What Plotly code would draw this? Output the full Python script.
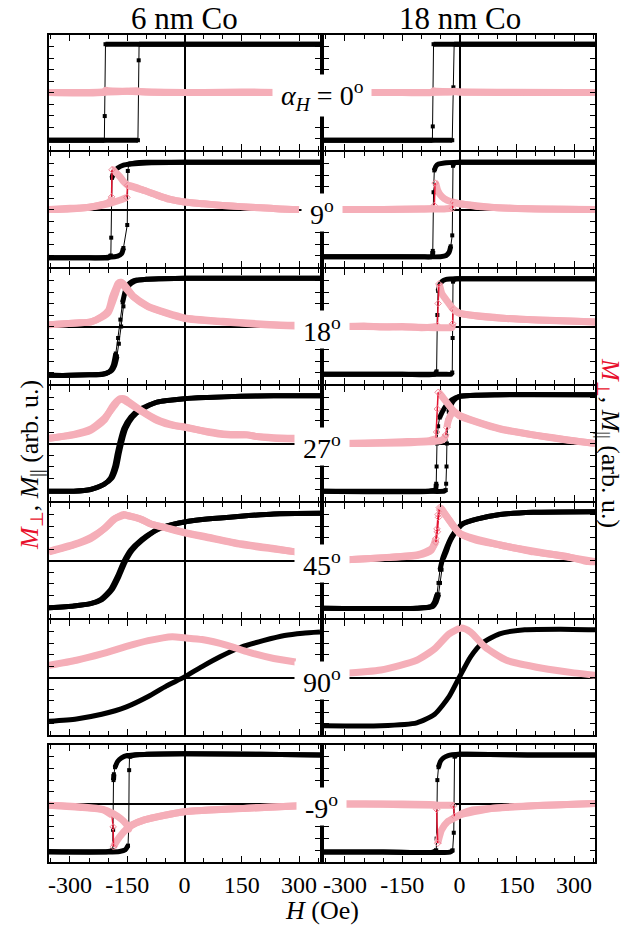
import plotly.graph_objects as go

# ---------------- data ----------------
# naming: H_<angle>_<sample>_<par|perp>_<dn|up>  (dn = field sweep from + to -, up = from - to +)
# ---- alpha_H = 0 deg
H_00_6_par_dn = [355, 200, 0, -150, -207, -209, -210, -215, -300, -355]
M_00_6_par_dn = [0.84, 0.84, 0.84, 0.84, 0.84, -0.41, -0.83, -0.83, -0.83, -0.83]
H_00_6_par_up = [-355, -300, -200, -150, -122, -120, -119, -110, 0, 200, 355]
M_00_6_par_up = [-0.83, -0.83, -0.83, -0.83, -0.83, 0.56, 0.84, 0.84, 0.84, 0.84, 0.84]
H_00_6_perp_dn = [355, 250, 150, 50, 0, -100, -150, -200, -207, -209, -215, -260, -355]
M_00_6_perp_dn = [0.0, 0.0, 0.01, 0.0, 0.0, 0.01, 0.02, 0.03, 0.04, 0.0, 0.0, -0.01, 0.0]
H_00_6_perp_up = [-355, -250, -200, -150, -122, -120, -100, 0, 355]
M_00_6_perp_up = [0.0, 0.0, 0.01, 0.02, 0.03, 0.02, 0.01, 0.0, 0.0]

H_00_18_par_dn = [355, 200, 0, -50, -68, -70, -71, -80, -200, -355]
M_00_18_par_dn = [0.84, 0.84, 0.84, 0.84, 0.84, -0.59, -0.83, -0.83, -0.83, -0.83]
H_00_18_par_up = [-355, -200, -50, -19, -16, -14, 0, 200, 355]
M_00_18_par_up = [-0.83, -0.83, -0.83, -0.83, 0.09, 0.84, 0.84, 0.84, 0.84]
H_00_18_perp_dn = [355, 200, 100, 0, -60, -68, -72, -150, -355]
M_00_18_perp_dn = [0.0, 0.0, 0.0, 0.01, 0.02, 0.03, 0.0, 0.0, 0.0]
H_00_18_perp_up = [-355, -100, -20, -16, 0, 355]
M_00_18_perp_up = [0.0, 0.0, 0.01, 0.02, 0.01, 0.0]

# ---- 9 deg
H_09_6_par_dn = [355, 200, 0, -100, -140, -160, -175, -185, -190, -192, -193, -200, -250, -355]
M_09_6_par_dn = [0.82, 0.82, 0.82, 0.81, 0.79, 0.77, 0.72, 0.65, 0.55, -0.49, -0.80, -0.84, -0.84, -0.84]
H_09_6_par_up = [-355, -250, -200, -175, -165, -160, -150, -148.5, -146, -130, -100, 0, 200, 355]
M_09_6_par_up = [-0.84, -0.84, -0.83, -0.81, -0.77, -0.67, -0.27, 0.67, 0.79, 0.81, 0.82, 0.82, 0.82, 0.82]
H_09_6_perp_dn = [300, 250, 200, 147, 100, 50, 0, -40, -72, -105, -130, -148, -160, -168, -175, -181, -187, -190, -191, -193, -200, -220, -250, -300, -355]
M_09_6_perp_dn = [0.0, 0.01, 0.03, 0.05, 0.07, 0.10, 0.13, 0.18, 0.25, 0.33, 0.38, 0.42, 0.49, 0.56, 0.61, 0.65, 0.69, 0.69, 0.22, 0.15, 0.12, 0.08, 0.04, 0.02, 0.0]
H_09_6_perp_up = [-355, -300, -250, -200, -170, -155, -151, -149, -140, -130, -105, -72, -40, 0, 50, 100, 147, 200, 250, 300]
M_09_6_perp_up = [0.0, 0.01, 0.04, 0.10, 0.16, 0.20, 0.21, 0.42, 0.41, 0.39, 0.33, 0.25, 0.18, 0.13, 0.10, 0.07, 0.05, 0.03, 0.01, 0.0]

H_09_18_par_dn = [355, 200, 0, -40, -55, -62, -66, -68, -70, -72, -100, -200, -355]
M_09_18_par_dn = [0.82, 0.82, 0.82, 0.81, 0.79, 0.75, 0.68, 0.30, -0.72, -0.82, -0.82, -0.82, -0.82]
H_09_18_par_up = [-355, -200, -50, -35, -27, -23, -19, -17, -14, 0, 200, 355]
M_09_18_par_up = [-0.82, -0.82, -0.82, -0.80, -0.74, -0.64, -0.45, 0.76, 0.81, 0.82, 0.82, 0.82]
H_09_18_perp_dn = [355, 200, 100, 50, 20, 0, -20, -40, -52, -58, -62, -64, -66, -70, -100, -200, -318]
M_09_18_perp_dn = [0.0, 0.01, 0.03, 0.05, 0.08, 0.10, 0.13, 0.19, 0.27, 0.35, 0.45, 0.46, 0.07, 0.02, 0.01, 0.0, 0.0]
H_09_18_perp_up = [-318, -200, -100, -40, -20, -18, -16, -10, 0, 100, 355]
M_09_18_perp_up = [0.0, 0.0, 0.01, 0.01, 0.02, 0.02, 0.13, 0.115, 0.10, 0.03, 0.0]

# ---- 18 deg
H_18_6_par_dn = [355, 200, 0, -60, -100, -130, -145, -153, -160, -166, -172, -177, -183, -190, -200, -215, -250, -300, -355]
M_18_6_par_dn = [0.84, 0.84, 0.84, 0.83, 0.82, 0.79, 0.72, 0.60, 0.35, 0.0, -0.30, -0.52, -0.68, -0.76, -0.80, -0.83, -0.84, -0.85, -0.85]
H_18_6_par_up = [-355, -300, -250, -215, -200, -192, -186, -180, -174, -168, -162, -155, -148, -138, -125, -100, -60, 0, 200, 355]
M_18_6_par_up = [-0.85, -0.85, -0.84, -0.83, -0.80, -0.75, -0.66, -0.47, -0.20, 0.12, 0.42, 0.62, 0.72, 0.78, 0.81, 0.82, 0.83, 0.84, 0.84, 0.84]
H_18_6_perp_dn = [290, 187, 100, 0, -48, -95, -133, -152, -163, -168, -174, -180, -189, -199, -217, -245, -283, -355]
M_18_6_perp_dn = [0.01, 0.04, 0.08, 0.14, 0.23, 0.34, 0.51, 0.65, 0.74, 0.77, 0.75, 0.66, 0.51, 0.28, 0.17, 0.08, 0.06, 0.03]
H_18_6_perp_up = [-355, -283, -245, -217, -199, -190, -182, -175, -169, -165, -160, -150, -133, -95, -48, 0, 100, 187, 290]
M_18_6_perp_up = [0.03, 0.06, 0.08, 0.16, 0.25, 0.40, 0.55, 0.68, 0.75, 0.77, 0.74, 0.66, 0.52, 0.35, 0.24, 0.15, 0.09, 0.05, 0.02]

H_18_18_par_dn = [355, 200, 0, -35, -45, -52, -56, -58, -60, -65, -150, -355]
M_18_18_par_dn = [0.83, 0.83, 0.83, 0.82, 0.79, 0.72, 0.62, 0.20, -0.78, -0.83, -0.83, -0.83]
H_18_18_par_up = [-355, -200, -40, -22, -19, -18, -17, -15, -5, 100, 355]
M_18_18_par_up = [-0.83, -0.83, -0.83, -0.83, -0.80, -0.20, 0.78, 0.82, 0.83, 0.83, 0.83]
H_18_18_perp_dn = [355, 300, 217, 123, 50, 0, -17, -31, -46, -52, -54, -56, -58, -61, -70, -100, -150, -200, -250, -305]
M_18_18_perp_dn = [0.08, 0.09, 0.11, 0.14, 0.18, 0.23, 0.31, 0.43, 0.57, 0.71, 0.74, 0.40, 0.02, 0.0, -0.01, -0.02, 0.0, -0.01, 0.01, 0.0]
H_18_18_perp_up = [-305, -250, -150, -60, -30, -20, -18, -17, -10, 0, 123, 355]
M_18_18_perp_up = [0.0, 0.0, -0.01, -0.02, -0.02, -0.02, 0.05, 0.29, 0.27, 0.23, 0.14, 0.08]

# ---- 27 deg
H_27_6_par_dn = [355, 234, 147, 59, 0, -72, -115, -141, -159, -168, -176, -183, -194, -211, -246, -290, -355]
M_27_6_par_dn = [0.83, 0.83, 0.82, 0.80, 0.78, 0.72, 0.60, 0.46, 0.26, 0.06, -0.17, -0.40, -0.60, -0.71, -0.80, -0.83, -0.83]
H_27_6_par_up = [-355, -290, -246, -211, -190, -178, -171, -163, -154, -136, -110, -72, 0, 59, 147, 234, 355]
M_27_6_par_up = [-0.83, -0.83, -0.80, -0.71, -0.60, -0.40, -0.17, 0.06, 0.26, 0.46, 0.60, 0.72, 0.78, 0.80, 0.82, 0.83, 0.83]
H_27_6_perp_dn = [291, 234, 190, 164, 112, 59, 0, -28, -72, -115, -150, -160, -168, -178, -190, -211, -246, -290, -355]
M_27_6_perp_dn = [0.08, 0.09, 0.12, 0.15, 0.15, 0.20, 0.29, 0.31, 0.40, 0.57, 0.72, 0.76, 0.78, 0.73, 0.63, 0.40, 0.23, 0.15, 0.09]
H_27_6_perp_up = [-355, -290, -246, -211, -186, -174, -164, -155, -145, -115, -72, -28, 0, 59, 112, 164, 190, 234, 291]
M_27_6_perp_up = [0.09, 0.16, 0.25, 0.43, 0.64, 0.74, 0.78, 0.77, 0.72, 0.58, 0.42, 0.32, 0.28, 0.21, 0.16, 0.15, 0.12, 0.10, 0.09]

H_27_18_par_dn = [355, 100, 0, -20, -35, -45, -52, -56, -59, -60, -61, -63, -80, -355]
M_27_18_par_dn = [0.85, 0.85, 0.82, 0.76, 0.66, 0.55, 0.45, 0.30, 0.0, -0.40, -0.70, -0.80, -0.83, -0.83]
H_27_18_par_up = [-355, -100, -40, -36, -35, -34, -33, -31, -28, -20, -10, 0, 50, 355]
M_27_18_par_up = [-0.83, -0.83, -0.83, -0.81, -0.70, -0.40, 0.0, 0.40, 0.55, 0.70, 0.78, 0.82, 0.84, 0.85]
H_27_18_perp_dn = [355, 281, 193, 106, 36, 0, -16, -34, -47, -53, -56, -58, -60, -62, -80, -150, -250, -307]
M_27_18_perp_dn = [0.0, 0.06, 0.15, 0.26, 0.40, 0.49, 0.57, 0.72, 0.83, 0.88, 0.89, 0.60, 0.20, 0.08, 0.05, 0.03, 0.01, 0.0]
H_27_18_perp_up = [-307, -250, -150, -80, -50, -40, -36, -33, -30, -25, -16, 0, 106, 355]
M_27_18_perp_up = [0.0, 0.0, 0.01, 0.03, 0.05, 0.09, 0.15, 0.28, 0.38, 0.47, 0.56, 0.48, 0.25, 0.0]

# ---- 45 deg
H_45_6_par_dn = [355, 234, 147, 59, 0, -28, -72, -115, -141, -159, -176, -194, -220, -246, -290, -355]
M_45_6_par_dn = [0.82, 0.81, 0.77, 0.72, 0.67, 0.63, 0.54, 0.35, 0.18, -0.02, -0.28, -0.51, -0.68, -0.75, -0.79, -0.82]
H_45_6_par_up = [-355, -290, -246, -216, -190, -172, -155, -137, -111, -70, -28, 0, 59, 147, 234, 355]
M_45_6_par_up = [-0.82, -0.79, -0.75, -0.68, -0.51, -0.28, -0.02, 0.18, 0.35, 0.54, 0.63, 0.67, 0.72, 0.77, 0.81, 0.82]
H_45_6_perp_dn = [291, 234, 147, 59, 0, -55, -90, -115, -150, -159, -185, -211, -246, -290, -355]
M_45_6_perp_dn = [0.15, 0.21, 0.29, 0.41, 0.49, 0.58, 0.64, 0.72, 0.78, 0.80, 0.72, 0.55, 0.38, 0.27, 0.15]
H_45_6_perp_up = [-355, -290, -246, -207, -181, -155, -146, -111, -86, -51, 0, 59, 147, 234, 291]
M_45_6_perp_up = [0.16, 0.28, 0.40, 0.57, 0.73, 0.79, 0.78, 0.71, 0.63, 0.57, 0.48, 0.40, 0.28, 0.20, 0.15]

H_45_18_par_dn = [355, 193, 106, 45, 10, -7, -20, -29, -38, -44, -51, -55, -59, -66, -74, -112, -355]
M_45_18_par_dn = [0.85, 0.84, 0.80, 0.72, 0.64, 0.54, 0.42, 0.30, 0.15, 0.04, -0.16, -0.39, -0.59, -0.73, -0.80, -0.83, -0.83]
H_45_18_par_up = [-355, -112, -70, -62, -55, -51, -47, -42, -35, -27, -18, -5, 8, 45, 106, 193, 355]
M_45_18_par_up = [-0.83, -0.83, -0.80, -0.73, -0.59, -0.39, -0.16, 0.04, 0.15, 0.30, 0.42, 0.54, 0.64, 0.72, 0.80, 0.84, 0.85]
H_45_18_perp_dn = [355, 337, 281, 193, 106, 45, 1, -24, -40, -50, -53, -56, -59, -62, -74, -109, -196, -270, -355]
M_45_18_perp_dn = [-0.02, -0.02, 0.07, 0.15, 0.27, 0.35, 0.47, 0.67, 0.82, 0.90, 0.92, 0.80, 0.55, 0.38, 0.18, 0.09, 0.05, 0.02, 0.0]
H_45_18_perp_up = [-355, -270, -196, -109, -74, -62, -58, -55, -52, -48, -40, -24, 1, 106, 355]
M_45_18_perp_up = [0.0, 0.02, 0.05, 0.10, 0.20, 0.32, 0.50, 0.75, 0.88, 0.91, 0.83, 0.68, 0.47, 0.27, -0.02]

# ---- 90 deg (no hysteresis: one sweep)
H_90_6_par = [-355, -283, -217, -152, -95, -48, 0, 46, 93, 149, 206, 262, 310, 355]
M_90_6_par = [-0.76, -0.72, -0.64, -0.51, -0.33, -0.15, 0.01, 0.19, 0.36, 0.53, 0.64, 0.73, 0.77, 0.79]
H_90_6_perp = [-355, -283, -217, -152, -95, -32, 0, 46, 112, 168, 234, 291]
M_90_6_perp = [0.21, 0.30, 0.41, 0.54, 0.64, 0.71, 0.69, 0.66, 0.56, 0.44, 0.33, 0.27]
H_90_18_par = [-355, -206, -112, -65, -27, 0, 29, 58, 105, 171, 265, 355]
M_90_18_par = [-0.84, -0.84, -0.79, -0.64, -0.33, 0.01, 0.36, 0.59, 0.76, 0.83, 0.84, 0.83]
H_90_18_perp = [-309, -206, -112, -65, -27, 5, 29, 67, 123, 217, 300, 355]
M_90_18_perp = [0.07, 0.13, 0.30, 0.50, 0.76, 0.86, 0.79, 0.53, 0.30, 0.16, 0.08, 0.04]

# ---- -9 deg
H_m9_6_par_dn = [355, 200, 0, -100, -150, -165, -175, -182, -185, -186, -187, -188, -200, -355]
M_m9_6_par_dn = [0.83, 0.84, 0.85, 0.84, 0.82, 0.78, 0.72, 0.62, 0.50, 0.40, -0.45, -0.80, -0.82, -0.82]
H_m9_6_par_up = [-355, -200, -170, -155, -148, -146, -145, -144, -130, 0, 200, 355]
M_m9_6_par_up = [-0.83, -0.83, -0.82, -0.79, -0.72, -0.40, 0.57, 0.80, 0.83, 0.85, 0.84, 0.83]
H_m9_6_perp_dn = [304, 164, 0, -52, -105, -138, -154, -170, -181, -186, -187, -190, -213, -267, -355]
M_m9_6_perp_dn = [-0.04, -0.08, -0.14, -0.20, -0.28, -0.37, -0.45, -0.57, -0.68, -0.74, -0.40, -0.20, -0.11, -0.07, -0.03]
H_m9_6_perp_up = [-355, -267, -213, -190, -175, -160, -150, -146, -144, -138, -105, 0, 164, 304]
M_m9_6_perp_up = [-0.03, -0.06, -0.10, -0.16, -0.22, -0.30, -0.38, -0.44, -0.40, -0.37, -0.28, -0.14, -0.08, -0.04]

H_m9_18_par_dn = [355, 200, 0, -30, -42, -50, -55, -58, -60, -61, -70, -200, -355]
M_m9_18_par_dn = [0.83, 0.83, 0.84, 0.82, 0.78, 0.72, 0.62, 0.40, -0.60, -0.80, -0.83, -0.83, -0.83]
H_m9_18_par_up = [-355, -200, -25, -18, -15, -13, -8, 0, 200, 355]
M_m9_18_par_up = [-0.83, -0.83, -0.83, -0.80, -0.50, 0.80, 0.83, 0.84, 0.83, 0.83]
H_m9_18_perp_dn = [355, 195, 88, 34, 7, -9, -31, -47, -54, -57, -60, -62, -70, -150, -250, -310]
M_m9_18_perp_dn = [0.0, -0.04, -0.08, -0.11, -0.17, -0.23, -0.31, -0.45, -0.60, -0.68, -0.10, -0.03, -0.02, -0.01, -0.01, -0.01]
H_m9_18_perp_up = [-310, -250, -150, -50, -20, -16, -13, -9, 0, 88, 355]
M_m9_18_perp_up = [-0.01, -0.01, -0.02, -0.03, -0.03, -0.04, -0.22, -0.23, -0.20, -0.08, 0.0]

# labels
COL_TITLES = ["6 nm Co", "18 nm Co"]
ANGLE_LABELS = ["<i>α</i><sub><i>H</i></sub> = 0<sup>o</sup>", "9<sup>o</sup>", "18<sup>o</sup>",
                "27<sup>o</sup>", "45<sup>o</sup>", "90<sup>o</sup>", "-9<sup>o</sup>"]
X_TICKVALS = [-300, -150, 0, 150, 300]
X_TICKTEXT = ["-300", "-150", "0", "150", "300"]
X_MINOR = [-350, -250, -200, -100, -50, 50, 100, 200, 250, 350]
Y_TICKVALS = [-0.8, -0.6, -0.4, -0.2, 0.0, 0.2, 0.4, 0.6, 0.8]

# panels: rows (angles) x columns (samples); each entry: list of (H, M, kind)
PANELS = [
    [[(H_00_6_par_dn, M_00_6_par_dn, "par"), (H_00_6_par_up, M_00_6_par_up, "par"),
      (H_00_6_perp_dn, M_00_6_perp_dn, "perp"), (H_00_6_perp_up, M_00_6_perp_up, "perp")],
     [(H_00_18_par_dn, M_00_18_par_dn, "par"), (H_00_18_par_up, M_00_18_par_up, "par"),
      (H_00_18_perp_dn, M_00_18_perp_dn, "perp"), (H_00_18_perp_up, M_00_18_perp_up, "perp")]],
    [[(H_09_6_par_dn, M_09_6_par_dn, "par"), (H_09_6_par_up, M_09_6_par_up, "par"),
      (H_09_6_perp_dn, M_09_6_perp_dn, "perp"), (H_09_6_perp_up, M_09_6_perp_up, "perp")],
     [(H_09_18_par_dn, M_09_18_par_dn, "par"), (H_09_18_par_up, M_09_18_par_up, "par"),
      (H_09_18_perp_dn, M_09_18_perp_dn, "perp"), (H_09_18_perp_up, M_09_18_perp_up, "perp")]],
    [[(H_18_6_par_dn, M_18_6_par_dn, "par"), (H_18_6_par_up, M_18_6_par_up, "par"),
      (H_18_6_perp_dn, M_18_6_perp_dn, "perp"), (H_18_6_perp_up, M_18_6_perp_up, "perp")],
     [(H_18_18_par_dn, M_18_18_par_dn, "par"), (H_18_18_par_up, M_18_18_par_up, "par"),
      (H_18_18_perp_dn, M_18_18_perp_dn, "perp"), (H_18_18_perp_up, M_18_18_perp_up, "perp")]],
    [[(H_27_6_par_dn, M_27_6_par_dn, "par"), (H_27_6_par_up, M_27_6_par_up, "par"),
      (H_27_6_perp_dn, M_27_6_perp_dn, "perp"), (H_27_6_perp_up, M_27_6_perp_up, "perp")],
     [(H_27_18_par_dn, M_27_18_par_dn, "par"), (H_27_18_par_up, M_27_18_par_up, "par"),
      (H_27_18_perp_dn, M_27_18_perp_dn, "perp"), (H_27_18_perp_up, M_27_18_perp_up, "perp")]],
    [[(H_45_6_par_dn, M_45_6_par_dn, "par"), (H_45_6_par_up, M_45_6_par_up, "par"),
      (H_45_6_perp_dn, M_45_6_perp_dn, "perp"), (H_45_6_perp_up, M_45_6_perp_up, "perp")],
     [(H_45_18_par_dn, M_45_18_par_dn, "par"), (H_45_18_par_up, M_45_18_par_up, "par"),
      (H_45_18_perp_dn, M_45_18_perp_dn, "perp"), (H_45_18_perp_up, M_45_18_perp_up, "perp")]],
    [[(H_90_6_par, M_90_6_par, "par"), (H_90_6_perp, M_90_6_perp, "perp")],
     [(H_90_18_par, M_90_18_par, "par"), (H_90_18_perp, M_90_18_perp, "perp")]],
    [[(H_m9_6_par_dn, M_m9_6_par_dn, "par"), (H_m9_6_par_up, M_m9_6_par_up, "par"),
      (H_m9_6_perp_dn, M_m9_6_perp_dn, "perp"), (H_m9_6_perp_up, M_m9_6_perp_up, "perp")],
     [(H_m9_18_par_dn, M_m9_18_par_dn, "par"), (H_m9_18_par_up, M_m9_18_par_up, "par"),
      (H_m9_18_perp_dn, M_m9_18_perp_dn, "perp"), (H_m9_18_perp_up, M_m9_18_perp_up, "perp")]],
]

# ---------------- layout geometry ----------------
FW, FH = 641, 925
COL_PX = [(49, 320), (324, 595)]
ROW_PX = [(35, 150), (152, 267), (269, 384), (386, 501), (503, 618), (620, 735), (745, 862)]
XR = [-355, 355]
YR = [-1.0, 1.0]
FONT = "Liberation Serif"

BLACK = "black"
PINK_BAND = "rgb(245,174,184)"
RED = "#e3122f"
PINK_MK = "#ef8797"
KY = (ROW_PX[0][1] - ROW_PX[0][0]) / (YR[1] - YR[0])  # px per unit


def split_runs(H, M):
    runs, cur, flag0 = [], [0], None
    for i in range(len(H) - 1):
        dx = abs(H[i + 1] - H[i])
        dy = abs(M[i + 1] - M[i]) * KY
        flag = dy > 6 and dy > 2.0 * dx
        if flag0 is None or flag == flag0:
            cur.append(i + 1)
            flag0 = flag
        else:
            runs.append((flag0, cur))
            cur, flag0 = [i, i + 1], flag
    runs.append((flag0, cur))
    return runs


fig = go.Figure()
layout = dict(width=FW, height=FH, margin=dict(l=0, r=0, t=0, b=0, pad=0), autosize=False,
              paper_bgcolor="white", plot_bgcolor="white", showlegend=False,
              font=dict(family=FONT, color="black"))

n = 0
for r, row in enumerate(PANELS):
    for c, branches in enumerate(row):
        n += 1
        xs = "" if n == 1 else str(n)
        x0, x1 = COL_PX[c]
        t, b = ROW_PX[r]
        bottom = r == len(PANELS) - 1
        layout["xaxis" + xs] = dict(
            domain=[x0 / FW, x1 / FW], range=XR, anchor="y" + str(n) if n > 1 else "y",
            showgrid=False, zeroline=True, zerolinecolor="black", zerolinewidth=1.5,
            showline=True, linecolor="black", linewidth=1.6, mirror="allticks",
            ticks="inside", ticklen=6, tickwidth=1.3, tickcolor="black",
            tickmode="array", tickvals=X_TICKVALS, ticktext=X_TICKTEXT,
            showticklabels=bottom, tickfont=dict(size=24, family=FONT, color="black"),
            minor=dict(tickmode="array", tickvals=X_MINOR, ticks="inside", ticklen=4,
                       tickwidth=1.2, tickcolor="black", showgrid=False),
        )
        layout["yaxis" + xs] = dict(
            domain=[1 - b / FH, 1 - t / FH], range=YR, anchor="x" + str(n) if n > 1 else "x",
            showgrid=False, zeroline=True, zerolinecolor="black", zerolinewidth=1.5,
            showline=True, linecolor="black", linewidth=1.6, mirror="allticks",
            ticks="inside", ticklen=5, tickwidth=1.3, tickcolor="black",
            tickmode="array", tickvals=Y_TICKVALS, showticklabels=False,
        )
        xa = "x" if n == 1 else "x" + str(n)
        ya = "y" if n == 1 else "y" + str(n)
        # black first, pink on top
        for kind_order in ("par", "perp"):
            for H, M, kind in branches:
                if kind != kind_order:
                    continue
                for steep, idx in split_runs(H, M):
                    hx = [H[i] for i in idx]
                    my = [M[i] for i in idx]
                    if kind == "par":
                        if steep:
                            fig.add_trace(go.Scatter(x=hx, y=my, xaxis=xa, yaxis=ya, mode="lines+markers",
                                                     line=dict(color=BLACK, width=1),
                                                     marker=dict(symbol="square", size=4, color=BLACK),
                                                     hoverinfo="skip"))
                        else:
                            fig.add_trace(go.Scatter(x=hx, y=my, xaxis=xa, yaxis=ya, mode="lines",
                                                     line=dict(color=BLACK, width=5, shape="spline", smoothing=0.6),
                                                     hoverinfo="skip"))
                    else:
                        if steep:
                            fig.add_trace(go.Scatter(x=hx, y=my, xaxis=xa, yaxis=ya, mode="lines+markers",
                                                     line=dict(color=RED, width=1.5),
                                                     marker=dict(symbol="diamond-open", size=5, color=PINK_MK,
                                                                 line=dict(width=1, color=PINK_MK)),
                                                     hoverinfo="skip"))
                        else:
                            fig.add_trace(go.Scatter(x=hx, y=my, xaxis=xa, yaxis=ya, mode="lines",
                                                     line=dict(color=PINK_BAND, width=7, shape="spline", smoothing=0.6),
                                                     hoverinfo="skip"))

ann = []
for c, title in enumerate(COL_TITLES):
    ann.append(dict(x=(COL_PX[c][0] + COL_PX[c][1]) / 2 / FW, y=1 - 18 / FH, xref="paper", yref="paper",
                    text=title, showarrow=False, xanchor="center", yanchor="middle",
                    font=dict(size=31, family=FONT, color="black")))
for r, lab in enumerate(ANGLE_LABELS):
    zy = (ROW_PX[r][0] + ROW_PX[r][1]) / 2 + 3
    ann.append(dict(x=322 / FW, y=1 - zy / FH, xref="paper", yref="paper",
                    text="\u00a0" + lab + "\u00a0", showarrow=False, xanchor="center", yanchor="middle",
                    bgcolor="white", borderpad=1, font=dict(size=28, family=FONT, color="black")))
ylab = ("<span style='color:#e8102c'><i>M</i><sub>⊥</sub></span>, "
        "<i>M</i><sub>||</sub> (arb. u.)")
ann.append(dict(x=31 / FW, y=1 - 465 / FH, xref="paper", yref="paper", text=ylab, textangle=-90,
                showarrow=False, xanchor="center", yanchor="middle",
                font=dict(size=26, family=FONT, color="black")))
ann.append(dict(x=609 / FW, y=1 - 443 / FH, xref="paper", yref="paper", text=ylab, textangle=90,
                showarrow=False, xanchor="center", yanchor="middle",
                font=dict(size=26, family=FONT, color="black")))
ann.append(dict(x=322 / FW, y=1 - 910 / FH, xref="paper", yref="paper", text="<i>H</i> (Oe)",
                showarrow=False, xanchor="center", yanchor="middle",
                font=dict(size=26, family=FONT, color="black")))
layout["annotations"] = ann
fig.update_layout(**layout)
fig.write_html("out.html", config={"displayModeBar": False},
               post_script="document.body.style.margin='0px';document.body.style.padding='0px';"
                           "document.body.style.overflow='hidden';"
                           "document.documentElement.style.overflow='hidden';")
